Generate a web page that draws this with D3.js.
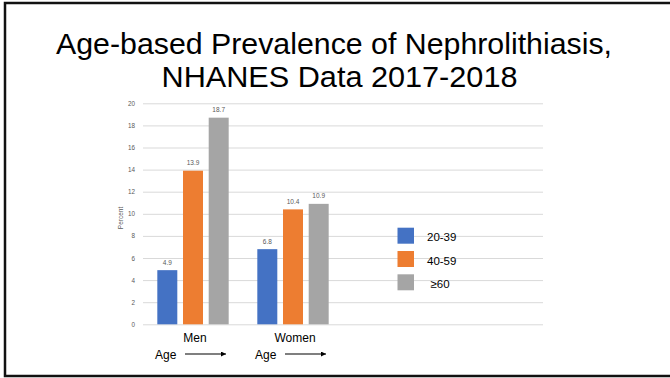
<!DOCTYPE html>
<html>
<head>
<meta charset="utf-8">
<script src="https://cdn.jsdelivr.net/npm/d3@7"></script>
<style>
  html, body { margin: 0; padding: 0; background: #fff; }
  svg { display: block; font-family: "Liberation Sans", Arial, sans-serif; }
</style>
</head>
<body>
<svg id="chart" width="670" height="378"></svg>
<script>
// Prevalence of kidney stones (%) by sex and age group
const categories = ["Men", "Women"];
const series = ["20-39", "40-59", "\u226560"];
const men = [4.9, 13.9, 18.7];
const women = [6.8, 10.4, 10.9];
const yTicks = [0, 2, 4, 6, 8, 10, 12, 14, 16, 18, 20];
const colors = ["#4472C4", "#ED7D31", "#A5A5A5"];
const titleLines = ["Age-based Prevalence of Nephrolithiasis,", "NHANES Data 2017-2018"];

const values = [men, women];
const svg = d3.select("#chart");

// Slide frame (open on the right edge)
svg.append("path")
  .attr("d", "M670,3 H5 V376 H670")
  .attr("fill", "none")
  .attr("stroke", "#111")
  .attr("stroke-width", 2.5);

// Title
const title = svg.append("g").attr("fill", "#000").attr("text-anchor", "middle");
title.append("text").attr("x", 334).attr("y", 53.5)
  .attr("font-size", 29.5)
  .attr("textLength", 556).attr("lengthAdjust", "spacingAndGlyphs")
  .text(titleLines[0]);
title.append("text").attr("x", 339.5).attr("y", 86.5)
  .attr("font-size", 29.5)
  .attr("textLength", 356).attr("lengthAdjust", "spacingAndGlyphs")
  .text(titleLines[1]);

// Plot area
const plotLeft = 143, plotRight = 543, plotTop = 103.3, plotBottom = 324.3;
const step = (plotRight - plotLeft) / 4;

const y = d3.scaleLinear().domain([0, 20]).range([plotBottom, plotTop]);
const x0 = d3.scaleBand().domain(categories)
  .range([plotLeft, plotLeft + step * categories.length]);
const x1 = d3.scaleBand().domain(series)
  .range([0, x0.bandwidth()])
  .paddingInner(0.222).paddingOuter(0.557);

// Gridlines and tick labels via axis
const yAxis = d3.axisLeft(y).tickValues(yTicks)
  .tickSize(-(plotRight - plotLeft)).tickPadding(8);
const ga = svg.append("g").attr("transform", `translate(${plotLeft},0)`).call(yAxis);
ga.select(".domain").remove();
ga.selectAll(".tick line").attr("stroke", "#d9d9d9").attr("stroke-width", 1);
ga.selectAll(".tick text")
  .attr("fill", "#595959")
  .attr("font-size", 6.3)
  .attr("font-family", "'Liberation Sans', Arial, sans-serif");

// Axis title
svg.append("text")
  .attr("transform", "translate(122.5,218) rotate(-90)")
  .attr("text-anchor", "middle")
  .attr("font-size", 6.5)
  .attr("fill", "#595959")
  .text("Percent");

// Bars
const groups = svg.append("g").selectAll("g")
  .data(categories.map((c, i) => ({ c, vals: values[i] })))
  .join("g")
  .attr("transform", d => `translate(${x0(d.c)},0)`);

groups.selectAll("rect")
  .data(d => d.vals.map((v, j) => ({ s: series[j], v, j })))
  .join("rect")
  .attr("x", d => x1(d.s))
  .attr("width", x1.bandwidth())
  .attr("y", d => y(d.v))
  .attr("height", d => y(0) - y(d.v))
  .attr("fill", d => colors[d.j]);

// Value labels
groups.selectAll("text.val")
  .data(d => d.vals.map((v, j) => ({ s: series[j], v, j })))
  .join("text")
  .attr("class", "val")
  .attr("x", d => x1(d.s) + x1.bandwidth() / 2)
  .attr("y", d => y(d.v) - 5.5)
  .attr("text-anchor", "middle")
  .attr("font-size", 6.5)
  .attr("fill", "#595959")
  .text(d => d.v.toFixed(1));

// Category labels
svg.append("g").selectAll("text")
  .data(categories)
  .join("text")
  .attr("x", d => x0(d) + x0.bandwidth() / 2 + 2)
  .attr("y", 341.5)
  .attr("text-anchor", "middle")
  .attr("font-size", 12)
  .attr("fill", "#000")
  .text(d => d);

// "Age →" annotations under each group
svg.append("defs").append("marker")
  .attr("id", "arrow")
  .attr("viewBox", "0 0 10 10")
  .attr("refX", 10).attr("refY", 5)
  .attr("markerWidth", 5).attr("markerHeight", 5)
  .attr("markerUnits", "userSpaceOnUse")
  .attr("orient", "auto")
  .append("path").attr("d", "M0,0 L10,5 L0,10 Z").attr("fill", "#000");

const ageG = svg.append("g").selectAll("g")
  .data(categories)
  .join("g")
  .attr("transform", d => `translate(${x0(d)},0)`);
ageG.append("text")
  .attr("x", 12)
  .attr("y", 358.5)
  .attr("font-size", 12)
  .attr("fill", "#000")
  .text("Age");
ageG.append("line")
  .attr("x1", 42).attr("x2", 83)
  .attr("y1", 354).attr("y2", 354)
  .attr("stroke", "#000").attr("stroke-width", 1.2)
  .attr("marker-end", "url(#arrow)");

// Legend
const legend = svg.append("g").selectAll("g")
  .data(series)
  .join("g")
  .attr("transform", (d, i) => `translate(397.5,${227.7 + i * 23.3})`);
legend.append("rect")
  .attr("width", 16.5).attr("height", 16)
  .attr("fill", (d, i) => colors[i]);
legend.append("text")
  .attr("x", (d, i) => i === 2 ? 33 : 29.5)
  .attr("y", 13.5)
  .attr("font-size", 11.5)
  .attr("fill", "#000")
  .text(d => d);
</script>
</body>
</html>
